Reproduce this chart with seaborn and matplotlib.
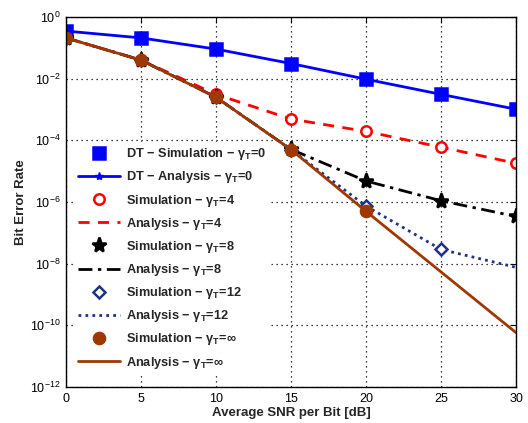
import matplotlib
matplotlib.use("Agg")
import matplotlib.pyplot as plt
import seaborn as sns
import numpy as np

snr = [0, 5, 10, 15, 20, 25, 30]

dt_sim = [0.35, 0.21, 0.091, 0.031, 0.0096, 0.0031, 0.00102]
dt_ana = [0.35, 0.21, 0.091, 0.031, 0.0096, 0.0031, 0.00102]
g4_sim = [0.21, 0.040, 0.0031, 4.9e-4, 1.95e-4, 6.0e-5, 1.8e-5]
g4_ana = [0.21, 0.040, 0.0031, 4.9e-4, 1.95e-4, 6.0e-5, 1.8e-5]
g8_sim = [0.21, 0.040, 0.0025, 5.1e-5, 4.8e-6, 1.1e-6, 3.4e-7]
g8_ana = [0.21, 0.040, 0.0025, 5.1e-5, 4.8e-6, 1.1e-6, 3.4e-7]
g12_sim = [0.21, 0.040, 0.0025, 5.0e-5, 7.4e-7, 2.9e-8]
g12_ana = [0.21, 0.040, 0.0025, 5.0e-5, 7.4e-7, 2.9e-8, 7.6e-9]
ginf_sim = [0.21, 0.040, 0.0025, 5.0e-5, 5.0e-7]
ginf_ana = [0.21, 0.040, 0.0025, 5.0e-5, 5.0e-7, 5.4e-9, 5.8e-11]

labels = [
    r'DT $-$ Simulation $-$ $\gamma_\mathbf{T}$=0',
    r'DT $-$ Analysis $-$ $\gamma_\mathbf{T}$=0',
    r'Simulation $-$ $\gamma_\mathbf{T}$=4',
    r'Analysis $-$ $\gamma_\mathbf{T}$=4',
    r'Simulation $-$ $\gamma_\mathbf{T}$=8',
    r'Analysis $-$ $\gamma_\mathbf{T}$=8',
    r'Simulation $-$ $\gamma_\mathbf{T}$=12',
    r'Analysis $-$ $\gamma_\mathbf{T}$=12',
    r'Simulation $-$ $\gamma_\mathbf{T}$=$\infty$',
    r'Analysis $-$ $\gamma_\mathbf{T}$=$\infty$',
]
xticks = [0, 5, 10, 15, 20, 25, 30]

sns.set_style("white")
plt.rcParams['font.family'] = ['Liberation Sans', 'DejaVu Sans']
plt.rcParams['mathtext.fontset'] = 'custom'
plt.rcParams['mathtext.rm'] = 'Liberation Sans:bold'
plt.rcParams['mathtext.it'] = 'Liberation Sans:bold'
plt.rcParams['mathtext.bf'] = 'Liberation Sans:bold'

fig = plt.figure(figsize=(5.28, 4.23), dpi=100)
ax = fig.add_axes([66/528, 36/423, 450/528, 370/423])

blue = (0, 0, 1)
red = (1, 0, 0)
black = (0, 0, 0)
navy = (0.12, 0.2, 0.5)
brown = (0.62, 0.22, 0.02)

def sim(y, color, marker, ms, filled, lab):
    n = len(y)
    sns.lineplot(x=snr[:n], y=y, ax=ax, color=color, linestyle='', marker=marker,
                 markersize=ms, markeredgewidth=1.8,
                 markerfacecolor=color if filled else 'white',
                 markeredgecolor=color, errorbar=None, label=lab)

def ana(y, color, ls, lab, marker=None, dashes=None):
    n = len(y)
    kw = {}
    if marker:
        kw = dict(marker=marker, markersize=6, markeredgecolor=color,
                  markerfacecolor=color, markeredgewidth=1)
    l = sns.lineplot(x=snr[:n], y=y, ax=ax, color=color, linestyle=ls, linewidth=2,
                     errorbar=None, label=lab, **kw)
    if dashes is not None:
        l.get_lines()[-1].set_dashes(dashes)

sim(dt_sim, blue, 's', 8.5, True, labels[0])
ana(dt_ana, blue, '-', labels[1], marker='*')
ana(g4_ana, red, '--', labels[3], dashes=(4, 3))
sim(g4_sim, red, 'o', 7.5, False, labels[2])
ana(g8_ana, black, '-.', labels[5], dashes=(5, 2, 1.2, 2))
sim(g8_sim, black, '*', 11, True, labels[4])
ana(g12_ana, navy, ':', labels[7], dashes=(1, 1.5))
sim(g12_sim, navy, 'D', 6.5, False, labels[6])
ana(ginf_ana, brown, '-', labels[9])
sim(ginf_sim, brown, 'o', 8, True, labels[8])

ax.set_yscale('log')
ax.set_xlim(0, 30)
ax.set_ylim(1e-12, 1)
ax.set_xticks(xticks)
ax.set_xticklabels([str(t) for t in xticks])
ax.set_yticks([10.0**k for k in range(-12, 1, 2)])
ax.yaxis.set_minor_locator(matplotlib.ticker.NullLocator())
ax.tick_params(axis='both', which='major', direction='in', length=4, width=0.8,
               labelsize=9, top=True, right=True, colors='black', pad=4)
ax.grid(True, which='major', linestyle=(0, (1, 3)), color='black', linewidth=0.9)
for s in ax.spines.values():
    s.set_color('black')
    s.set_linewidth(1.0)

ax.set_xlabel('Average SNR per Bit [dB]', fontsize=9.5, fontweight='bold', labelpad=2)
ax.set_ylabel('Bit Error Rate', fontsize=9.5, fontweight='bold', labelpad=2)

handles, labs = ax.get_legend_handles_labels()
hmap = dict(zip(labs, handles))
leg = ax.legend([hmap[l] for l in labels], labels, loc='upper left',
                bbox_to_anchor=(0.012, 0.668), frameon=True, framealpha=1,
                facecolor='white', edgecolor='white', fancybox=False,
                prop={'weight': 'bold', 'size': 9.2}, handlelength=3.3,
                handletextpad=0.45, labelspacing=0.56, borderaxespad=0.2,
                borderpad=0.3)

fig.savefig('out.png', dpi=100)
